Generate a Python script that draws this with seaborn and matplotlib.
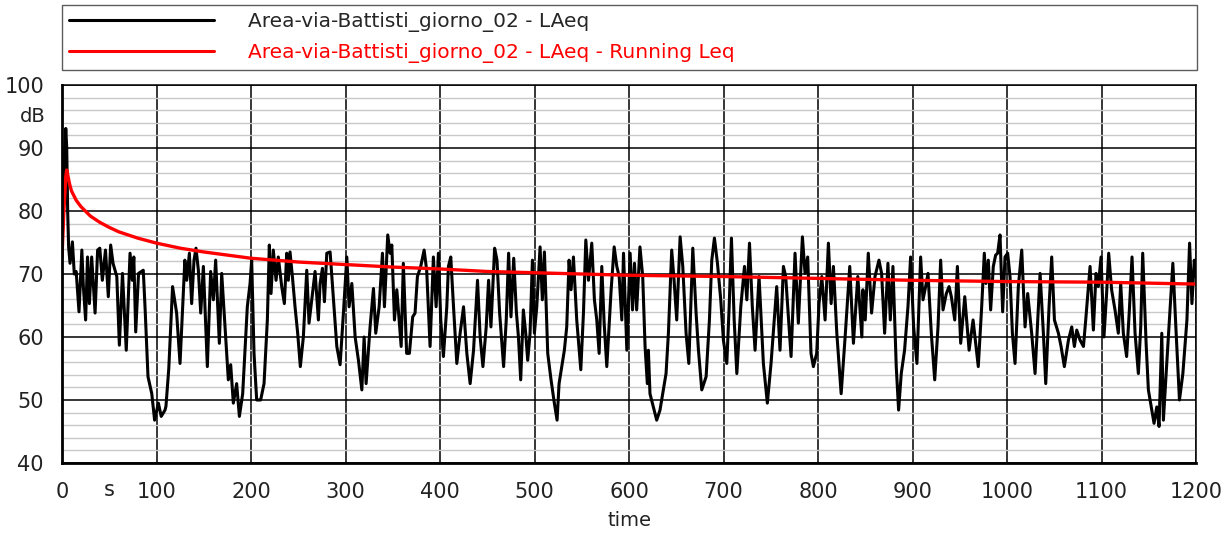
import matplotlib
matplotlib.use("Agg")
import matplotlib.pyplot as plt
import matplotlib.transforms as mtransforms
from matplotlib.ticker import MultipleLocator
import seaborn as sns

# LAeq trace (s, dB)
time_s = [
    0, 1.5, 3, 4, 5, 6, 7, 8.5, 11, 13, 15, 18, 21, 22.6, 25, 27, 29, 31.4, 35, 37.7,
    40, 42.7, 46, 49, 51.5, 54, 58, 60.7, 64, 68, 72, 74.4, 76, 78, 81, 86, 88, 91, 95, 98,
    102, 105, 109, 110, 113, 117, 121.3, 124.9, 127.7, 130, 132, 134.8, 137.2, 139.7, 141.8,
    144.3, 146.8, 149.6, 153.8, 157.3, 160.2, 162.6, 166.5, 169, 172.5, 176, 178.5, 181.3,
    184.8, 187.7, 191.2, 196.1, 199, 200.7, 203.2, 206, 210.2, 213.8, 217.3, 219.4, 221.2,
    223.6, 226.5, 228.9, 232.5, 235.3, 237.8, 239.5, 241.3, 243.8, 246.6, 249.4, 252.2,
    255.4, 259, 261.4, 264.3, 267.8, 271.3, 273.1, 275.6, 277.7, 280.2, 283.7, 287.3,
    290.8, 294.3, 297.8, 301.4, 303.8, 306.7, 310.2, 313.7, 317.3, 319.7, 321.8, 326,
    329.6, 332, 335.6, 339.1, 341.2, 344.7, 347.2, 349, 351.8, 354.3, 358.9, 361.2, 364.7,
    367.6, 371.1, 373.6, 376.1, 379.6, 383.2, 385.9, 389.5, 393, 395.9, 398.3, 400.8,
    403.6, 407.2, 408.9, 411.4, 414.3, 417.8, 421.3, 424.9, 428.4, 431.9, 435.5, 439.7,
    442.5, 445.4, 448.9, 451.4, 453.9, 457.8, 460.3, 463.1, 467.3, 470.1, 472.6, 475.1,
    478, 480.8, 483, 485.4, 488.2, 490.7, 492.8, 495.3, 497.8, 499.9, 502.4, 505.9, 508.3,
    510.5, 514, 517.5, 521, 523.9, 526, 528.8, 531.6, 534.1, 536.6, 538.7, 541.2, 544.7,
    549, 551.8, 554.3, 557.1, 560.6, 563.4, 565.9, 568.4, 571.2, 573.7, 576.5, 581.1,
    584.3, 587.1, 589.6, 592.4, 594.2, 597.7, 601.2, 603.7, 605.8, 608.1, 611.6, 614.5,
    617, 619.4, 620.5, 622.2, 625.8, 629.3, 632.8, 635.7, 639.2, 641.7, 645.2, 647.7,
    650.5, 654.1, 656.9, 660.4, 663.3, 667.5, 671, 673.5, 677, 681.6, 685.1, 687.6, 690.4,
    693.6, 697.1, 699.9, 703.5, 706, 708.4, 711.3, 714.1, 718.3, 722.2, 724.7, 727.5,
    730.5, 733.4, 737.6, 742.2, 746.4, 750.3, 756.3, 759.8, 763.4, 765.8, 768.7, 771.5,
    775.7, 779.2, 783.5, 786.3, 789.1, 792.6, 795.1, 798.6, 801.1, 804, 807.5, 811, 813.9,
    816.3, 819.9, 824.5, 828.7, 833.6, 837.5, 842.1, 846.4, 847.5, 850, 853.2, 856.7,
    860.3, 864.5, 867.3, 870.5, 874, 876.5, 879.3, 882.8, 885.3, 888.1, 891.6, 895.2, 898,
    901.2, 904.7, 908.6, 911.1, 913.9, 916.4, 919.9, 923.5, 927, 929.8, 932.3, 935.8,
    938.7, 941.1, 944.7, 947.5, 951, 955.3, 959.9, 964.1, 969.6, 973.2, 976, 977.7, 980.2,
    982.7, 985.5, 988, 990.1, 992.6, 995.4, 997.9, 1000.7, 1003.2, 1005.7, 1008.5, 1012,
    1015.6, 1019.1, 1021.9, 1026.1, 1029.7, 1035, 1038.5, 1041, 1044.5, 1047.3, 1050.2,
    1054.4, 1057.2, 1060.7, 1065, 1068.5, 1071.3, 1073.8, 1077.3, 1080.9, 1083.3, 1086.2,
    1087.9, 1091.4, 1094.2, 1096.6, 1099.5, 1102.6, 1105.4, 1107.6, 1110.7, 1114.3,
    1117.8, 1120.3, 1123.1, 1126.6, 1129.5, 1132.3, 1135.5, 1139, 1141.5, 1143.6, 1147.2,
    1149.6, 1153.2, 1155.6, 1158.5, 1160.9, 1163.8, 1165.5, 1168.4, 1171.9, 1175.5, 1179,
    1182.5, 1186.1, 1190.4, 1193.2, 1195.7, 1198.2, 1200,
]
laeq = [
    72.5, 85, 90, 93.1, 90, 80, 74.3, 71.7, 75.1, 70, 70.4, 64, 73.8, 68, 62.7, 72.7, 65.3, 72.7, 63.8, 73.8,
    74.1, 69, 73.8, 66.4, 74.6, 71.7, 69.6, 58.7, 70.1, 57.9, 73.3, 69, 72.7, 60.8, 70.1, 70.6, 64.3, 53.7, 51, 46.8,
    49.5, 47.4, 48.4, 49, 55, 68, 63.8, 55.8, 64.8, 72.2, 69, 73.3, 65.3, 72.2, 74.1,
    70.6, 63.8, 71.2, 55.3, 70.4, 65.9, 72.2, 59, 70.1, 61.6, 53.2, 55.6, 49.5,
    52.6, 47.4, 51, 64.8, 68.5, 72.2, 57.4, 50, 50, 52.6, 62.7, 74.6, 66.9,
    73.8, 69, 72.7, 68, 65.3, 73.3, 69, 73.5, 69.6, 64.8, 60.6, 55.3,
    60, 70.6, 62.2, 65.9, 70.4, 62.7, 68.5, 70.9, 65.6, 73.3, 73.5, 65.9,
    58.5, 55.6, 63.8, 72.7, 64.8, 68.5, 60, 56.3, 51.6, 60, 52.6, 61.6,
    67.7, 60.6, 64.8, 73.3, 64.8, 76.2, 73.3, 74.6, 62.7, 67.5, 58.5, 71.7, 57.4,
    57.4, 63.2, 63.8, 69.6, 71.2, 73.8, 70.6, 58.5, 72.7, 64.8, 73.3, 62.7,
    56.9, 64.8, 71.2, 72.7, 64.8, 55.8, 60.6, 64.8, 57.4, 52.6, 57.9, 69,
    60, 55.3, 61.6, 69, 61.6, 74.1, 72.2, 63.8, 55.3, 62.7, 73.3, 63.2,
    72.5, 64, 60, 53.2, 64.3, 60.6, 56.3, 60.6, 72.2, 60.6, 64.8, 74.3, 65.9,
    73.5, 57.4, 53.2, 49.5, 46.8, 52.6, 55.3, 57.9, 61.6, 72.2, 67.5, 72.7, 62.7,
    54.8, 63.8, 75.4, 69, 74.9, 65.9, 62.7, 57.4, 71.2, 62.2, 55.3, 67.5,
    74.3, 71.2, 69.6, 62.7, 73.3, 57.9, 73.3, 64.3, 71.7, 64.3, 74.3, 69.6,
    58.5, 52.6, 57.9, 51, 48.9, 46.8, 48.4, 51, 54.2, 60.6, 73.8, 69,
    62.7, 75.9, 71.2, 60.6, 55.8, 74.1, 63.8, 57.9, 51.6, 53.7, 62.7, 72.2, 75.7,
    71.7, 65.9, 59.5, 55.8, 64.8, 75.7, 62.7, 54.2, 64.8, 71.2, 65.9, 74.9,
    64.8, 57.9, 69.6, 55.8, 49.5, 55.8, 68, 57.9, 71.2, 69.6, 63.2, 56.9,
    73.3, 62.2, 75.9, 70.1, 72.7, 57.4, 55.3, 57.4, 65.3, 69.6, 62.7, 74.9, 65.3,
    71.2, 60.6, 51, 60, 71.2, 59, 69.6, 60, 67.5, 62.7, 73.3, 63.8,
    69.6, 72.2, 70.1, 60.6, 71.7, 62.7, 71.2, 55.3, 48.4, 54.2, 57.9, 64.8, 72.7,
    61.6, 55.8, 72.7, 65.9, 68, 70.1, 60.6, 53.2, 61.6, 72.2, 64.3, 66.9,
    68, 66.4, 62.7, 71.2, 59, 66.4, 57.9, 62.7, 55.3, 64.8, 73.3, 68.5, 72.2,
    64.3, 71.2, 73, 73.3, 76.2, 64, 72.7, 73.3, 69.6, 60.6, 55.8, 68,
    73.8, 61.6, 66.9, 60.6, 54.2, 70.1, 60.6, 52.6, 64.8, 72.7, 62.7,
    60.6, 58.5, 55.3, 59.5, 61.6, 58.5, 61.1, 59.5, 58.5, 62.7, 68,
    71.2, 61.1, 70.1, 68, 72.7, 60, 66.9, 73.3, 67.5, 64.3,
    60.6, 68.5, 60.6, 56.9, 64.3, 72.7, 60.6, 54.2, 61.6, 73.3, 59,
    51.6, 48.4, 46.3, 48.9, 45.8, 60.6, 46.8, 54.2, 62.7, 71.7, 60.6,
    50, 54.2, 62.7, 74.9, 65.3, 72.2, 69.6,
]

# Running Leq (s, dB)
leq_time_s = [0, 2, 4, 5, 6, 8, 10, 15, 20, 30, 40, 50, 60, 80, 100, 125, 150, 175, 200,
              250, 300, 350, 400, 450, 500, 600, 700, 800, 900, 1000, 1100, 1200]
running_leq = [72.8, 80, 85.5, 86.5, 85.8, 84.3, 83.2, 81.7, 80.7, 79.2, 78.2, 77.4, 76.7,
               75.7, 74.9, 74.1, 73.5, 73.0, 72.5, 71.9, 71.5, 71.1, 70.8, 70.4, 70.2,
               69.8, 69.6, 69.3, 69.0, 68.8, 68.7, 68.4]

name_laeq = "Area-via-Battisti_giorno_02 - LAeq"
name_leq = "Area-via-Battisti_giorno_02 - LAeq - Running Leq"

sns.set_style("white")
plt.rcParams["font.family"] = ["DejaVu Sans"]

W, H = 1229, 534
fig = plt.figure(figsize=(W / 100, H / 100), dpi=100)
ax = fig.add_axes([62 / W, 1 - 463 / H, (1196 - 62) / W, (463 - 85) / H])

sns.lineplot(x=time_s, y=laeq, color="black", linewidth=2.2, label=name_laeq, ax=ax)
sns.lineplot(x=leq_time_s, y=running_leq, color="#ff0000", linewidth=2.4, label=name_leq, ax=ax)

ax.set_xlim(0, 1200)
ax.set_ylim(40, 100)
ax.xaxis.set_major_locator(MultipleLocator(100))
ax.yaxis.set_major_locator(MultipleLocator(10))
ax.yaxis.set_minor_locator(MultipleLocator(2))
ax.grid(which="major", color="black", linewidth=1.1)
ax.grid(which="minor", axis="y", color="#c8c8c8", linewidth=1.0)
ax.set_axisbelow(True)

ax.tick_params(axis="x", which="major", length=11, width=1, color="#555555",
               pad=3, labelsize=15, labelcolor="#222222")
ax.tick_params(axis="y", which="major", length=12, width=1, color="#555555",
               pad=1, labelsize=15, labelcolor="#222222")
ax.tick_params(axis="y", which="minor", length=0)
for side in ["left", "bottom"]:
    ax.spines[side].set_linewidth(2)
    ax.spines[side].set_color("black")
for side in ["top", "right"]:
    ax.spines[side].set_linewidth(1.1)
    ax.spines[side].set_color("black")

ax.set_xlabel("time", fontsize=14, color="#222222", labelpad=6)
ax.set_ylabel("")

# unit labels placed in the tick label rows
ytrans = mtransforms.blended_transform_factory(ax.transAxes, ax.transData)
ax.text(-16 / 1134, 95, "dB", transform=ytrans, ha="right", va="center",
        fontsize=14, color="#222222")
xtrans = mtransforms.blended_transform_factory(ax.transData, ax.transAxes)
ax.text(50, -27 / 378, "s", transform=xtrans, ha="center", va="center",
        fontsize=15, color="#222222")

# legend box above the plot, spanning its full width
leg = ax.legend(loc="upper left",
                bbox_to_anchor=(62 / W, 1 - 71 / H, (1197 - 62) / W, 66 / H),
                bbox_transform=fig.transFigure, mode="expand", ncol=1,
                fontsize=14.5, frameon=True, fancybox=False, edgecolor="#333333",
                handlelength=7.2, handletextpad=1.7, labelspacing=0.55,
                borderpad=0.35, borderaxespad=0)
leg.get_frame().set_linewidth(1.0)
for line in leg.get_lines():
    line.set_linewidth(2.2)
leg.get_texts()[1].set_color("#ff0000")

fig.savefig("out.png", dpi=100)
